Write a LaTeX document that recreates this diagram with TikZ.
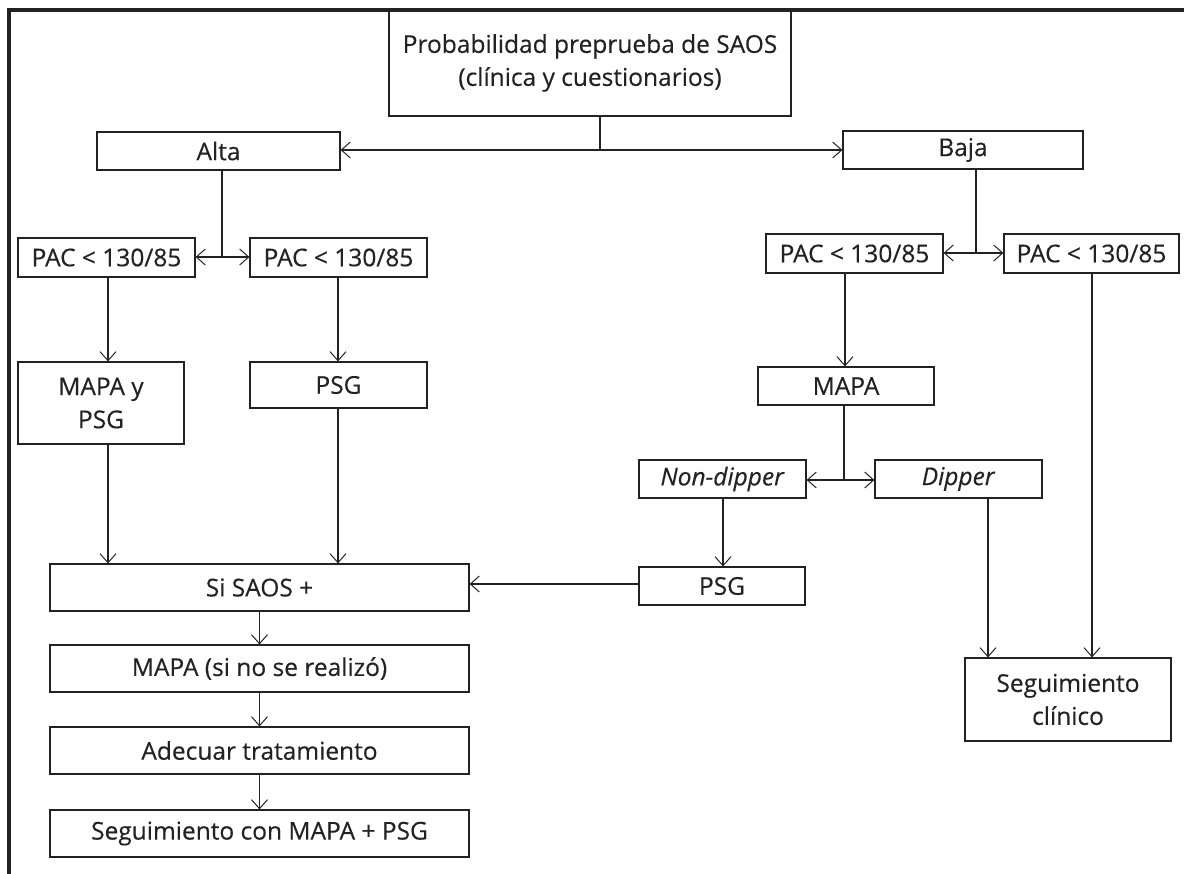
\documentclass[tikz,border=0pt]{standalone}
\usepackage{fontspec}
\setmainfont{Open Sans}[FakeBold=0.35]
\usetikzlibrary{arrows.meta}
\definecolor{ink}{HTML}{222222}
\tikzset{
  box/.style={draw=ink, line width=1.15pt, inner sep=0pt, align=center, text=ink,
    font=\fontsize{24.5}{33}\selectfont},
  arr/.style={draw=ink, line width=1.15pt, -{Straight Barb[length=9pt,width=16pt,line width=1pt]}},
  ln/.style={draw=ink, line width=1.15pt},
  frame/.style={draw=ink, line width=3.2pt}
}
\newcommand\bx[6]{\node[box,minimum width={(#4-#2)*1pt},minimum height={(#5-#3)*1pt}] (#1) at ({(#2+#4)/2},{(#3+#5)/2}) {#6};}
\begin{document}
\begin{tikzpicture}[x=1pt,y=-1pt]
\useasboundingbox (0,0) rectangle (1184,874);
\draw[frame] (9,874) -- (9,10) -- (1184,10);
% nodes
\bx{top}{389}{10}{791}{116}{Probabilidad preprueba de SAOS\\(clínica y cuestionarios)}
\bx{alta}{97}{132}{340}{170}{Alta}
\bx{baja}{843}{131}{1083}{169}{Baja}
\bx{pl1}{18}{238}{195}{277}{PAC < 130/85}
\bx{pl2}{250}{238}{427}{277}{PAC < 130/85}
\bx{pr1}{766}{234}{943}{273}{PAC < 130/85}
\bx{pr2}{1004}{234}{1179}{273}{PAC < 130/85}
\bx{mp}{18}{362}{184}{444}{MAPA y\\PSG}
\bx{psgl}{250}{362}{427}{408}{PSG}
\bx{mapa}{758}{367}{934}{405}{MAPA}
\bx{nd}{639}{460}{806}{498}{\textit{Non-dipper}}
\bx{dp}{875}{460}{1042}{498}{\textit{Dipper}}
\bx{psgr}{639}{567}{805}{605}{PSG}
\bx{si}{50}{564}{469}{611}{Si SAOS +}
\bx{mapa2}{50}{645}{469}{692}{MAPA (si no se realizó)}
\bx{adec}{50}{727}{469}{774}{Adecuar tratamiento}
\bx{segm}{50}{810}{469}{857}{Seguimiento con MAPA + PSG}
\bx{segc}{965}{658}{1171}{741}{Seguimiento\\clínico}
% junctions
\coordinate (j1) at (600,150);
\coordinate (j2) at (222,257);
\coordinate (j3) at (976,253);
\coordinate (j4) at (844,480);
\coordinate (j5) at (0,584);
% connectors
\draw[ln] (top.south -| j1) -- (j1);
\draw[arr] (j1) -- (alta.east |- j1);
\draw[arr] (j1) -- (baja.west |- j1);
\draw[ln] (alta.south -| j2) -- (j2);
\draw[arr] (j2) -- (pl1.east |- j2);
\draw[arr] (j2) -- (pl2.west |- j2);
\draw[ln] (baja.south -| j3) -- (j3);
\draw[arr] (j3) -- (pr1.east |- j3);
\draw[arr] (j3) -- (pr2.west |- j3);
\draw[arr] (pl1.south -| 108,0) -- (mp.north -| 108,0);
\draw[arr] (pl2.south -| 338,0) -- (psgl.north -| 338,0);
\draw[arr] (pr1.south -| 845,0) -- (mapa.north -| 845,0);
\draw[ln] (mapa.south -| j4) -- (j4);
\draw[arr] (j4) -- (nd.east |- j4);
\draw[arr] (j4) -- (dp.west |- j4);
\draw[arr] (nd.south -| 723,0) -- (psgr.north -| 723,0);
\draw[arr] (psgr.west |- j5) -- (si.east |- j5);
\draw[arr] (mp.south -| 108,0) -- (si.north -| 108,0);
\draw[arr] (psgl.south -| 338,0) -- (si.north -| 338,0);
\draw[arr] (si.south) -- (mapa2.north);
\draw[arr] (mapa2.south) -- (adec.north);
\draw[arr] (adec.south) -- (segm.north);
\draw[arr] (dp.south -| 988,0) -- (segc.north -| 988,0);
\draw[arr] (pr2.south -| 1092,0) -- (segc.north -| 1092,0);
\end{tikzpicture}
\end{document}
